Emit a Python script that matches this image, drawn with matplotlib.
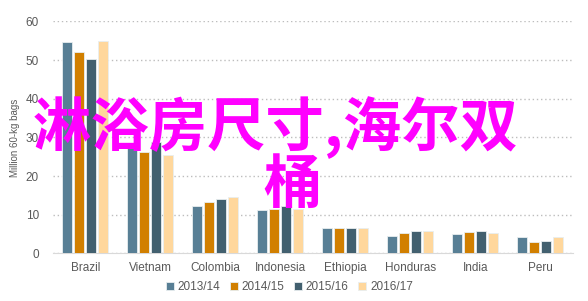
import numpy as np
import matplotlib
matplotlib.use("Agg")
import matplotlib.pyplot as plt

countries = ["Brazil", "Vietnam", "Colombia", "Indonesia", "Ethiopia", "Honduras", "India", "Peru"]
seasons = ["2013/14", "2014/15", "2015/16", "2016/17"]
v2013 = [54.7, 27.8, 12.2, 11.2, 6.5, 4.4, 5.0, 4.2]
v2014 = [52.2, 26.3, 13.2, 11.4, 6.6, 5.2, 5.5, 2.9]
v2015 = [50.4, 28.7, 14.0, 12.3, 6.6, 5.8, 5.8, 3.2]
v2016 = [55.0, 25.5, 14.5, 11.5, 6.6, 5.7, 5.2, 4.3]
colors = ["#587f95", "#d17f00", "#42606f", "#ffd79c"]

plt.rcParams['font.family'] = ['Liberation Sans', 'DejaVu Sans']

fig = plt.figure(figsize=(5.88, 3.01), dpi=100)
ax = fig.add_axes([0.090, 0.158, 0.884, 0.771])

x = np.arange(len(countries))
w = 0.155
step = 0.185
for i, (vals, c, lab) in enumerate(zip([v2013, v2014, v2015, v2016], colors, seasons)):
    ax.bar(x + (i - 1.5) * step, vals, width=w, color=c, edgecolor="#e8eef0",
           linewidth=0.6, label=lab, zorder=3)

ax.set_xlim(-0.5, len(countries) - 0.5)
ax.set_ylim(0, 60)
ax.set_yticks(range(0, 61, 10))
ax.set_xticks(x)
ax.set_xticklabels(countries)
ax.tick_params(axis="both", length=0, colors="#595959", labelsize=8.5)
ax.tick_params(axis="y", pad=10)
ax.tick_params(axis="x", pad=6)
ax.grid(axis="y", linestyle=(0, (1, 2)), color="#bdbdbd", linewidth=1, zorder=0)
for s in ["left", "right", "top"]:
    ax.spines[s].set_visible(False)
ax.spines["bottom"].set_color("#d9d9d9")
ax.set_ylabel("Million 60-kg bags", fontsize=7, color="#595959", labelpad=4)

ax.legend(loc="upper center", bbox_to_anchor=(0.455, -0.085), ncol=4, frameon=False,
          fontsize=8.5, handlelength=0.7, handleheight=0.7, handletextpad=0.3,
          columnspacing=0.8, labelcolor="#595959", borderpad=0.2)

fig.text(276 / 588, 1 - 128 / 301, "淋浴房尺寸,海尔双", ha="center", va="center",
         fontsize=42, color="#ff00ff", fontweight="bold",
         family=["Noto Sans CJK SC", "DejaVu Sans"], zorder=10)
fig.text(293 / 588, 1 - 186 / 301, "桶", ha="center", va="center",
         fontsize=42, color="#ff00ff", fontweight="bold",
         family=["Noto Sans CJK SC", "DejaVu Sans"], zorder=10)

fig.savefig("out.png", dpi=100)
